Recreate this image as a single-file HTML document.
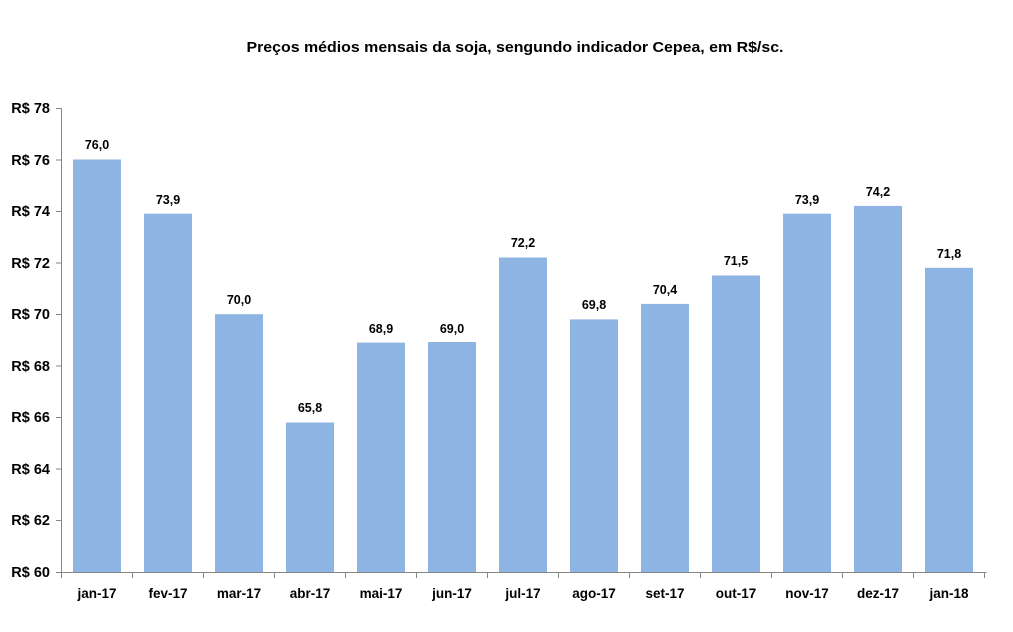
<!DOCTYPE html>
<html><head><meta charset="utf-8"><style>body{margin:0;background:#fff}svg{display:block}text{font-family:"Liberation Sans",Arial,sans-serif;font-weight:bold;fill:#000}</style></head>
<body>
<svg width="1013" height="632" xmlns="http://www.w3.org/2000/svg">
<text x="515" y="52" font-size="14.5" text-anchor="middle" textLength="537" lengthAdjust="spacingAndGlyphs">Preços médios mensais da soja, sengundo indicador Cepea, em R$/sc.</text>
<g fill="#8eb4e3">
<rect x="73" y="159.5" width="48" height="412.5"/>
<rect x="144" y="213.7" width="48" height="358.3"/>
<rect x="215" y="314.2" width="48" height="257.8"/>
<rect x="286" y="422.5" width="48" height="149.5"/>
<rect x="357" y="342.6" width="48" height="229.4"/>
<rect x="428" y="342" width="48" height="230"/>
<rect x="499" y="257.5" width="48" height="314.5"/>
<rect x="570" y="319.4" width="48" height="252.6"/>
<rect x="641" y="303.9" width="48" height="268.1"/>
<rect x="712" y="275.5" width="48" height="296.5"/>
<rect x="783" y="213.7" width="48" height="358.3"/>
<rect x="854" y="205.9" width="48" height="366.1"/>
<rect x="925" y="267.8" width="48" height="304.2"/>
</g>
<g font-size="12.5" text-anchor="middle">
<text x="97" y="149">76,0</text>
<text x="168" y="204">73,9</text>
<text x="239" y="304">70,0</text>
<text x="310" y="412">65,8</text>
<text x="381" y="333">68,9</text>
<text x="452" y="333">69,0</text>
<text x="523" y="247">72,2</text>
<text x="594" y="309">69,8</text>
<text x="665" y="294">70,4</text>
<text x="736" y="265">71,5</text>
<text x="807" y="204">73,9</text>
<text x="878" y="196">74,2</text>
<text x="949" y="258">71,8</text>
</g>
<g stroke="#868686" stroke-width="1" fill="none">
<path d="M61.5 108V572.5H986.5"/>
<path d="M56 108.5H61.5M56 160H61.5M56 211.5H61.5M56 263H61.5M56 314.5H61.5M56 366H61.5M56 417.5H61.5M56 469H61.5M56 520.5H61.5M56 572.5H61.5"/>
<path d="M61.5 572v6M132.5 572v6M203.5 572v6M274.5 572v6M345.5 572v6M416.5 572v6M487.5 572v6M558.5 572v6M629.5 572v6M700.5 572v6M771.5 572v6M842.5 572v6M913.5 572v6M984.5 572v6"/>
</g>
<g font-size="14.5" text-anchor="end">
<text x="50" y="113">R$ 78</text>
<text x="50" y="165">R$ 76</text>
<text x="50" y="216">R$ 74</text>
<text x="50" y="268">R$ 72</text>
<text x="50" y="319">R$ 70</text>
<text x="50" y="371">R$ 68</text>
<text x="50" y="422">R$ 66</text>
<text x="50" y="474">R$ 64</text>
<text x="50" y="525">R$ 62</text>
<text x="50" y="577">R$ 60</text>
</g>
<g font-size="13.5" text-anchor="middle">
<text x="97" y="598">jan-17</text>
<text x="168" y="598">fev-17</text>
<text x="239" y="598">mar-17</text>
<text x="310" y="598">abr-17</text>
<text x="381" y="598">mai-17</text>
<text x="452" y="598">jun-17</text>
<text x="523" y="598">jul-17</text>
<text x="594" y="598">ago-17</text>
<text x="665" y="598">set-17</text>
<text x="736" y="598">out-17</text>
<text x="807" y="598">nov-17</text>
<text x="878" y="598">dez-17</text>
<text x="949" y="598">jan-18</text>
</g>
</svg>
</body></html>
